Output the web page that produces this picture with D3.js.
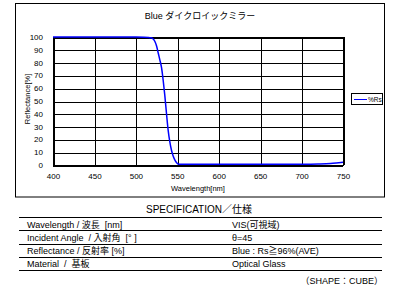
<!DOCTYPE html>
<html lang="ja">
<head>
<meta charset="utf-8">
<title>Blue dichroic mirror</title>
<script src="https://d3js.org/d3.v7.min.js"></script>
<style>
  body { margin: 0; background: #fff; }
  svg text { font-family: "Liberation Sans", "Noto Sans CJK JP", sans-serif; fill: #000; }
  .grid line { stroke: #000; stroke-width: 1; shape-rendering: crispEdges; }
  .grid path { display: none; }
  .grid text { font-size: 8px; }
</style>
</head>
<body>
<script>
// wavelength (nm) and reflectance (%Rs)
var wavelength = [400, 450, 500, 510, 515, 518, 520, 523, 525, 527, 529, 531, 533, 535, 537, 539, 541, 543, 545, 547, 549, 551, 554, 600, 650, 700, 720, 735, 745, 750];
var reflectance = [100, 100, 100, 99.9, 99.7, 99.4, 99, 96.5, 93, 87.5, 82, 76, 66, 54, 40, 27, 18, 11.5, 7, 4, 2, 0.8, 0.5, 0.5, 0.5, 0.6, 0.8, 1.2, 1.8, 2.1];

var xTicks = [400, 450, 500, 550, 600, 650, 700, 750];
var yTicks = [0, 10, 20, 30, 40, 50, 60, 70, 80, 90, 100];

var specTitle = "SPECIFICATION／仕様";
var specNames = ["Wavelength / 波長  [nm]", "Incident Angle  / 入射角  [° ]", "Reflectance / 反射率 [%]", "Material  /  基板"];
var specValues = ["VIS(可視域)", "θ=45", "Blue : Rs≧96%(AVE)", "Optical Glass"];
var shapeNote = "（SHAPE：CUBE）";

var W = 400, H = 300;
var svg = d3.select("body").append("svg")
    .attr("width", W)
    .attr("height", H);

// outer chart frame
svg.append("rect")
    .attr("x", 15.5).attr("y", 3.5)
    .attr("width", 369).attr("height", 193.5)
    .attr("fill", "none").attr("stroke", "#000");

svg.append("text")
    .attr("x", 200).attr("y", 19)
    .attr("text-anchor", "middle")
    .style("font-size", "9px")
    .text("Blue ダイクロイックミラー");

var x = d3.scaleLinear().domain([400, 750]).range([53, 343]);
var y = d3.scaleLinear().domain([0, 100]).range([165, 37]);

svg.append("g")
    .attr("class", "grid")
    .attr("transform", "translate(0," + y(0) + ")")
    .call(d3.axisBottom(x).tickValues(xTicks).tickSizeInner(-(y(0) - y(100))).tickSizeOuter(0).tickPadding(8))
  .selectAll("line").attr("transform", "translate(0.5,0)");

svg.append("g")
    .attr("class", "grid")
    .attr("transform", "translate(" + x(400) + ",0)")
    .call(d3.axisLeft(y).tickValues(yTicks).tickSizeInner(-(x(750) - x(400))).tickSizeOuter(0).tickPadding(10))
  .selectAll("line").attr("transform", "translate(0,0.5)");

svg.append("rect")
    .attr("x", x(400) + 0.5).attr("y", y(100) + 0.5)
    .attr("width", x(750) - x(400)).attr("height", y(0) - y(100))
    .attr("fill", "none").attr("stroke", "#000");

var line = d3.line()
    .x(function(d, i) { return x(wavelength[i]); })
    .y(function(d) { return y(d); })
    .curve(d3.curveMonotoneX);

svg.append("path")
    .datum(reflectance)
    .attr("d", line)
    .attr("fill", "none")
    .attr("stroke", "#0000ff")
    .attr("stroke-width", 1.5);

svg.append("text")
    .attr("x", 198).attr("y", 191)
    .attr("text-anchor", "middle")
    .style("font-size", "7.5px")
    .text("Wavelength[nm]");

svg.append("text")
    .attr("transform", "translate(30,99) rotate(-90)")
    .attr("text-anchor", "middle")
    .style("font-size", "7.5px")
    .text("Reflectance[%]");

// legend
var legend = svg.append("g");
legend.append("rect")
    .attr("x", 351.5).attr("y", 93.5)
    .attr("width", 31).attr("height", 11)
    .attr("fill", "#fff").attr("stroke", "#000");
legend.append("line")
    .attr("x1", 354).attr("x2", 367)
    .attr("y1", 99.5).attr("y2", 99.5)
    .attr("stroke", "#0000ff");
legend.append("text")
    .attr("x", 368).attr("y", 102)
    .style("font-size", "6.5px")
    .text("%Rs");

// spec table
svg.append("text")
    .attr("x", 199).attr("y", 213)
    .attr("text-anchor", "middle")
    .style("font-size", "10px")
    .text(specTitle);

var rowY = d3.range(specNames.length + 1).map(function(i) { return 217 + i * 13.3; });

svg.selectAll("line.row")
    .data(rowY)
  .enter().append("line")
    .attr("class", "row")
    .attr("x1", 19).attr("x2", 382)
    .attr("y1", function(d) { return Math.round(d) + 0.5; })
    .attr("y2", function(d) { return Math.round(d) + 0.5; })
    .attr("stroke", "#000")
    .attr("stroke-width", 1.2);

svg.selectAll("text.name")
    .data(specNames)
  .enter().append("text")
    .attr("class", "name")
    .attr("x", 27)
    .attr("y", function(d, i) { return rowY[i] + 10.5; })
    .style("font-size", "9px")
    .style("white-space", "pre")
    .text(function(d) { return d; });

svg.selectAll("text.val")
    .data(specValues)
  .enter().append("text")
    .attr("class", "val")
    .attr("x", 232)
    .attr("y", function(d, i) { return rowY[i] + 10.5; })
    .style("font-size", "9px")
    .text(function(d) { return d; });

svg.append("text")
    .attr("x", 383).attr("y", 284)
    .attr("text-anchor", "end")
    .style("font-size", "9px")
    .text(shapeNote);
</script>
</body>
</html>
